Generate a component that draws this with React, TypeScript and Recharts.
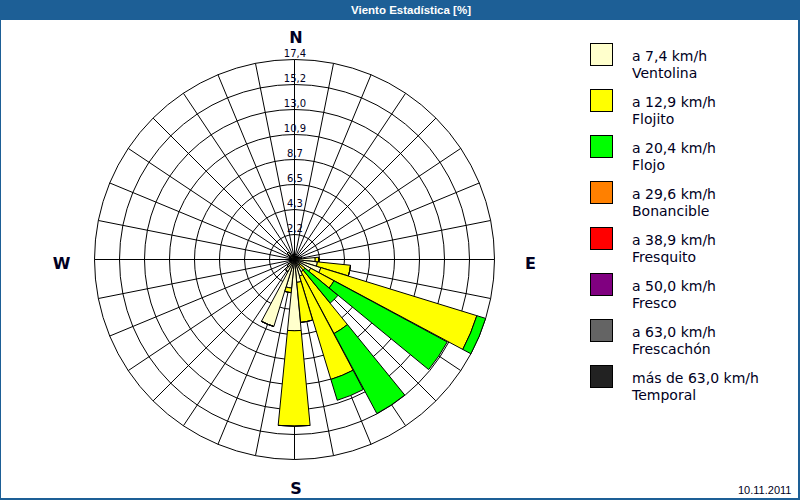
import { RadialBarChart, RadialBar, PolarGrid, PolarAngleAxis, PolarRadiusAxis, Legend } from 'recharts'

// 32 compass sectors, clockwise from north (degrees)
const directions = [
  0, 11.25, 22.5, 33.75, 45, 56.25, 67.5, 78.75,
  90, 101.25, 112.5, 123.75, 135, 146.25, 157.5, 168.75,
  180, 191.25, 202.5, 213.75, 225, 236.25, 247.5, 258.75,
  270, 281.25, 292.5, 303.75, 315, 326.25, 337.5, 348.75,
]
const compassLabels: Record<number, string> = { 0: 'N', 90: 'E', 180: 'S', 270: 'W' }

// frequency [%] per speed class
const ventolina = [
  0.3, 0.2, 0.2, 0.2, 0.3, 0.3, 0.4, 0.6,
  1.8, 2.0, 2.4, 1.6, 0.6, 1.2, 1.5, 2.0,
  6.2, 2.5, 6.1, 1.2, 0.8, 0.4, 0.3, 0.3,
  0.3, 0.3, 0.4, 0.5, 0.8, 0.4, 0.3, 0.3,
]
const flojito = [
  0, 0, 0, 0, 0, 0, 0, 0,
  0.3, 2.9, 14.2, 2.3, 0.6, 6.1, 9.4, 3.5,
  8.3, 0.4, 0, 0, 0, 0, 0, 0,
  0, 0, 0, 0, 0, 0, 0, 0,
]
const flojo = [
  0, 0, 0, 0, 0, 0, 0, 0,
  0, 0, 0.8, 11.2, 3.7, 7.9, 1.9, 0,
  0, 0, 0, 0, 0, 0, 0, 0,
  0, 0, 0, 0, 0, 0, 0, 0,
]

const bandSpeeds = ['a 7,4 km/h', 'a 12,9 km/h', 'a 20,4 km/h', 'a 29,6 km/h', 'a 38,9 km/h', 'a 50,0 km/h', 'a 63,0 km/h', 'más de 63,0 km/h']
const bandNames = ['Ventolina', 'Flojito', 'Flojo', 'Bonancible', 'Fresquito', 'Fresco', 'Frescachón', 'Temporal']
const bandColors = ['#ffffcc', '#ffff00', '#00ff00', '#ff8000', '#ff0000', '#800080', '#646464', '#222222']

const ringTicks = [2.175, 4.35, 6.525, 8.7, 10.875, 13.05, 15.225, 17.4]
const ringLabels = ['2,2', '4,3', '6,5', '8,7', '10,9', '13,0', '15,2', '17,4']

const data = directions.map((deg, i) => ({
  deg,
  ventolina: ventolina[i],
  flojito: flojito[i],
  flojo: flojo[i],
}))

const CX = 294.5
const CY = 259.5
const OUTER = 200
const MAX = ringTicks[ringTicks.length - 1]
const BLUE = '#1d5f96'
const INK = '#000022'

function CompassTick(props: any) {
  const { x, y, payload } = props
  const label = compassLabels[payload.value]
  if (!label) return <g />
  const dx = x - CX
  const dy = y - CY
  const len = Math.hypot(dx, dy) || 1
  // labels sit a little further out sideways than up/down
  return (
    <text x={CX + (dx / len) * 234.5 + 1.5} y={CY + (dy / len) * 225.5 + 3.5} textAnchor="middle" dominantBaseline="central"
      fontFamily="DejaVu Sans" fontWeight="bold" fontSize={16} fill={INK}>
      {label}
    </text>
  )
}

function RingTick(props: any) {
  const { x, y, payload } = props
  const i = ringTicks.indexOf(payload.value)
  if (i < 0) return <g />
  return (
    <text x={x + 0.5} y={y - 2.5} textAnchor="middle" fontFamily="DejaVu Sans" fontSize={10} fill={INK}>
      {ringLabels[i]}
    </text>
  )
}

function WindLegend() {
  return (
    <div style={{ fontFamily: 'DejaVu Sans', fontSize: 14, color: INK }}>
      {bandNames.map((name, i) => (
        <div key={name} style={{ position: 'relative', height: 46 }}>
          <div style={{ position: 'absolute', left: 0, top: 0, width: 21, height: 21, border: '1px solid #000', background: bandColors[i] }} />
          <div style={{ position: 'absolute', left: 42, top: 5, lineHeight: '17px', whiteSpace: 'nowrap' }}>
            <div>{bandSpeeds[i]}</div>
            <div>{name}</div>
          </div>
        </div>
      ))}
    </div>
  )
}

export default function App() {
  return (
    <div style={{ position: 'absolute', left: 0, top: 0, width: 800, height: 500, background: '#fff', overflow: 'hidden' }}>
      <div style={{ position: 'absolute', left: 0, top: 0 }}>
        <RadialBarChart width={800} height={500} data={data} cx={CX} cy={CY} innerRadius={0} outerRadius={OUTER}
          startAngle={90} endAngle={-270} layout="centric" barCategoryGap={0}
          margin={{ top: 0, right: 0, bottom: 0, left: 0 }}>
          <PolarGrid gridType="circle" stroke="#000" innerRadius={OUTER * ringTicks[0] / MAX} />
          <PolarAngleAxis dataKey="deg" type="number" domain={[0, 360]} ticks={directions}
            axisLine={false} tickLine={false} tick={<CompassTick />} />
          <PolarRadiusAxis type="number" domain={[0, MAX]} ticks={ringTicks} angle={90} axisLine={false} tickLine={false} tick={<RingTick />} />
          <RadialBar dataKey="ventolina" stackId="a" fill={bandColors[0]} stroke="#000" strokeWidth={1} isAnimationActive={false} />
          <RadialBar dataKey="flojito" stackId="a" fill={bandColors[1]} stroke="#000" strokeWidth={1} isAnimationActive={false} />
          <RadialBar dataKey="flojo" stackId="a" fill={bandColors[2]} stroke="#000" strokeWidth={1} isAnimationActive={false} />
          <Legend layout="vertical" align="right" verticalAlign="top" content={() => <WindLegend />}
            wrapperStyle={{ left: 590, top: 43, width: 205, height: 370 }} />
        </RadialBarChart>
      </div>
      <div style={{ position: 'absolute', left: 0, top: 0, width: 800, height: 20, background: BLUE, color: '#fff',
        fontFamily: 'Liberation Sans', fontWeight: 'bold', fontSize: 11.5, lineHeight: '20px', textAlign: 'center', paddingLeft: 22, boxSizing: 'border-box' }}>
        Viento Estadística [%]
      </div>
      <div style={{ position: 'absolute', left: 0, top: 0, width: 800, height: 500, boxSizing: 'border-box',
        borderLeft: `1px solid ${BLUE}`, borderRight: `2px solid ${BLUE}`, borderBottom: `2px solid ${BLUE}`, pointerEvents: 'none' }} />
      <div style={{ position: 'absolute', left: 738, top: 484, fontFamily: 'Liberation Sans', fontSize: 11, color: INK }}>
        10.11.2011
      </div>
    </div>
  )
}
